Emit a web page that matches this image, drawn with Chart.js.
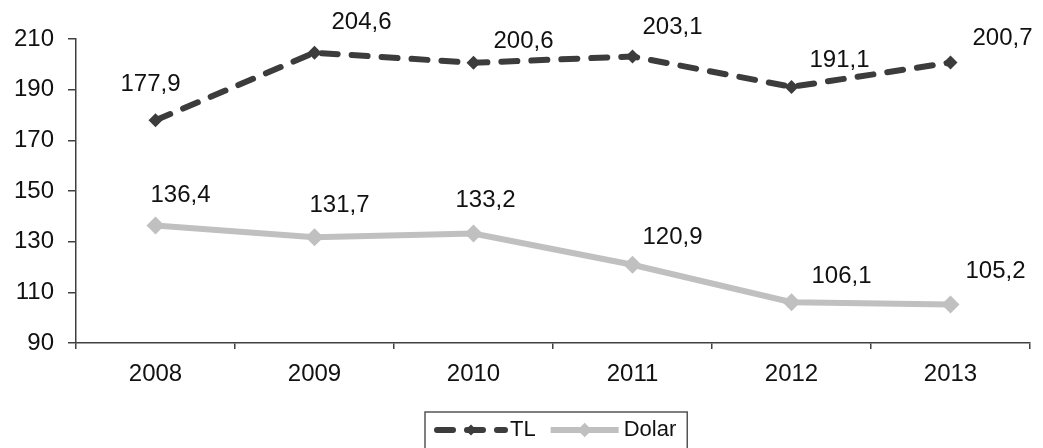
<!DOCTYPE html>
<html>
<head>
<meta charset="utf-8">
<script src="https://cdn.jsdelivr.net/npm/chart.js@4"></script>
<style>
  html, body { margin: 0; padding: 0; background: #fff; }
  #wrap { width: 1043px; height: 448px; }
</style>
</head>
<body>
<div id="wrap"><canvas id="chart" width="1043" height="448"></canvas></div>
<script>
// Data
const years = ['2008', '2009', '2010', '2011', '2012', '2013'];
const tlValues = [177.9, 204.6, 200.6, 203.1, 191.1, 200.7];
const dolarValues = [136.4, 131.7, 133.2, 120.9, 106.1, 105.2];
const yTicks = [90, 110, 130, 150, 170, 190, 210];

// label offsets from each point (style only)
const tlLabelOffsets = [[-5, -36], [47, -30], [50, -21], [40, -29], [48, -27], [52, -24]];
const dolarLabelOffsets = [[25, -30], [25, -32], [12, -33], [40, -27], [50, -26], [45, -33]];

const colors = {
  tl: '#3c3c3c',
  dolar: '#c0c0c0',
  axis: '#404040',
  text: '#111'
};
const fontFamily = "'Liberation Sans', Arial, sans-serif";
const fontSize = 24;

const fmt = v => v.toFixed(1).replace('.', ',');

// draws value labels next to points
const valueLabels = {
  id: 'valueLabels',
  afterDatasetsDraw(chart) {
    const ctx = chart.ctx;
    ctx.save();
    ctx.font = fontSize + 'px ' + fontFamily;
    ctx.fillStyle = colors.text;
    ctx.textAlign = 'center';
    ctx.textBaseline = 'middle';
    chart.data.datasets.forEach((ds, i) => {
      const meta = chart.getDatasetMeta(i);
      meta.data.forEach((pt, j) => {
        const off = ds.labelOffsets[j];
        ctx.fillText(fmt(ds.data[j]), pt.x + off[0], pt.y + off[1]);
      });
    });
    ctx.restore();
  }
};

// boxed legend with line samples
const boxLegend = {
  id: 'boxLegend',
  afterDraw(chart) {
    const ctx = chart.ctx;
    const cy = 430;
    const sample = 74;
    ctx.save();
    ctx.font = '22px ' + fontFamily;
    ctx.textBaseline = 'middle';
    let x = 434;
    const items = chart.data.datasets.map(ds => ({ ds, w: ctx.measureText(ds.label).width }));
    const totalW = items.reduce((s, it) => s + sample + 4 + it.w + 10, 0);
    ctx.strokeStyle = '#555';
    ctx.lineWidth = 1.5;
    ctx.strokeRect(425, 412, totalW + 8, 60);
    items.forEach(it => {
      const ds = it.ds;
      ctx.strokeStyle = ds.borderColor;
      ctx.lineWidth = ds.borderWidth;
      ctx.lineCap = ds.borderCapStyle || 'butt';
      ctx.setLineDash(ds.borderDash || []);
      ctx.beginPath();
      ctx.moveTo(x + 3, cy);
      ctx.lineTo(x + sample - 3, cy);
      ctx.stroke();
      ctx.setLineDash([]);
      const r = ds.pointRadius * 0.8;
      const mx = x + sample / 2;
      ctx.fillStyle = ds.pointBackgroundColor;
      ctx.beginPath();
      ctx.moveTo(mx, cy - r);
      ctx.lineTo(mx + r, cy);
      ctx.lineTo(mx, cy + r);
      ctx.lineTo(mx - r, cy);
      ctx.closePath();
      ctx.fill();
      ctx.fillStyle = colors.text;
      ctx.textAlign = 'left';
      ctx.fillText(ds.label, x + sample + 2, cy);
      x += sample + 4 + it.w + 10;
    });
    ctx.restore();
  }
};

new Chart(document.getElementById('chart'), {
  type: 'line',
  data: {
    labels: years,
    datasets: [{
      label: 'TL',
      data: tlValues,
      labelOffsets: tlLabelOffsets,
      borderColor: colors.tl,
      borderWidth: 6,
      borderDash: [16, 14],
      borderCapStyle: 'round',
      pointStyle: 'rectRot',
      pointRadius: 7,
      pointBackgroundColor: colors.tl,
      pointBorderColor: colors.tl,
      pointBorderWidth: 0,
      tension: 0
    }, {
      label: 'Dolar',
      data: dolarValues,
      labelOffsets: dolarLabelOffsets,
      borderColor: colors.dolar,
      borderWidth: 6,
      pointStyle: 'rectRot',
      pointRadius: 9,
      pointBackgroundColor: colors.dolar,
      pointBorderColor: colors.dolar,
      pointBorderWidth: 0,
      tension: 0
    }]
  },
  options: {
    responsive: false,
    animation: false,
    layout: { padding: { top: 39, right: 13, left: 0, bottom: 0 } },
    plugins: {
      legend: { display: false },
      tooltip: { enabled: false }
    },
    scales: {
      x: {
        offset: true,
        grid: { offset: true, drawOnChartArea: false, tickLength: 6, color: colors.axis, lineWidth: 1.5 },
        border: { color: colors.axis, width: 1.5 },
        ticks: { padding: 11, color: colors.text, font: { family: fontFamily, size: fontSize } },
        afterFit(scale) { scale.height = 105; }
      },
      y: {
        min: 90,
        max: 210,
        afterBuildTicks(scale) { scale.ticks = yTicks.map(v => ({ value: v })); },
        grid: { drawOnChartArea: false, tickLength: 8, color: colors.axis, lineWidth: 1.5 },
        border: { color: colors.axis, width: 1.5 },
        ticks: { padding: 14, color: colors.text, font: { family: fontFamily, size: fontSize } },
        afterFit(scale) { scale.width = 76; }
      }
    }
  },
  plugins: [valueLabels, boxLegend]
});
</script>
</body>
</html>
